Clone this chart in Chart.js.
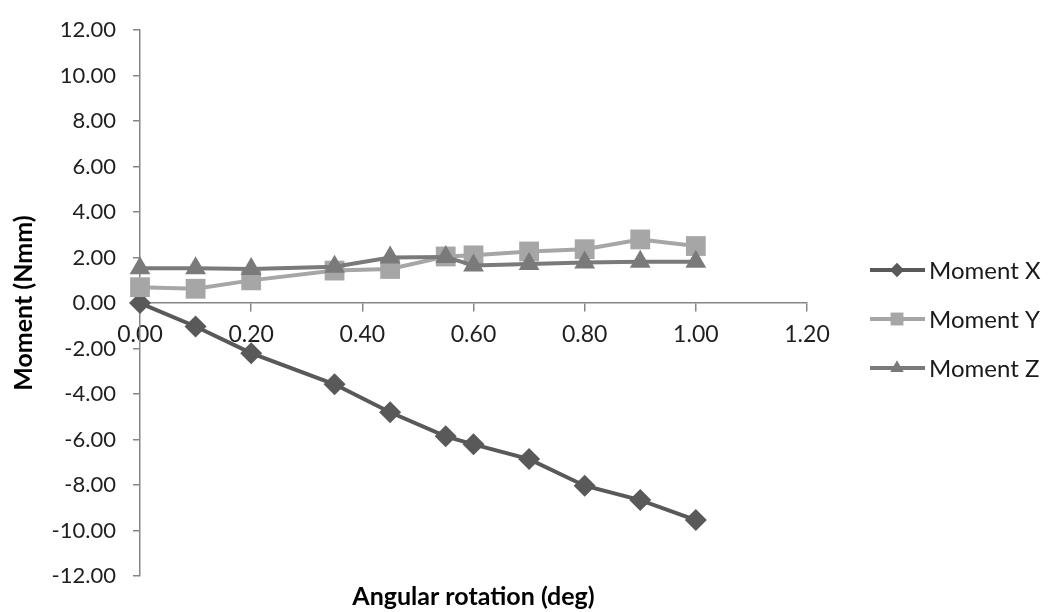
<!DOCTYPE html>
<html>
<head>
<meta charset="utf-8">
<title>Moment vs angular rotation</title>
<script src="https://cdn.jsdelivr.net/npm/chart.js@4"></script>
<style>
  html, body { margin: 0; padding: 0; background: #fff; }
  #wrap { width: 1062px; height: 612px; }
</style>
</head>
<body>
<div id="wrap"><canvas id="momentChart"></canvas></div>
<script>
// values
const angles  = [0, 0.10, 0.20, 0.35, 0.45, 0.55, 0.60, 0.70, 0.80, 0.90, 1.00];
const momentX = [0, -1.03, -2.20, -3.57, -4.80, -5.86, -6.21, -6.86, -8.03, -8.66, -9.54];
const momentY = [0.70, 0.63, 1.00, 1.43, 1.50, 2.05, 2.10, 2.27, 2.37, 2.80, 2.51];
const momentZ = [1.53, 1.53, 1.50, 1.60, 2.00, 2.03, 1.65, 1.72, 1.78, 1.82, 1.82];
const seriesNames = ['Moment X', 'Moment Y', 'Moment Z'];
const xTickValues = [0, 0.2, 0.4, 0.6, 0.8, 1.0, 1.2];
const yTickValues = [-12, -10, -8, -6, -4, -2, 0, 2, 4, 6, 8, 10, 12];

const FONT = 'Lato';
const axisColor = '#868686';

function toPoints(values) {
    return values.map((v, i) => ({ x: angles[i], y: v }));
}

function makeSeries(name, values, color, style, radius, order) {
    return {
        label: name,
        data: toPoints(values),
        xAxisID: 'x',
        yAxisID: 'y',
        borderColor: color,
        backgroundColor: color,
        borderWidth: 4,
        pointStyle: style,
        pointRadius: radius,
        pointHoverRadius: radius,
        pointBorderWidth: 0,
        pointBackgroundColor: color,
        tension: 0,
        clip: false,
        order: order
    };
}

// legend on the right: line + marker, like the spreadsheet one
const sideLegend = {
    id: 'sideLegend',
    afterDraw(chart) {
        const ctx = chart.ctx;
        chart.data.datasets.forEach((ds, i) => {
            const y = 270 + i * 49;
            ctx.save();
            ctx.strokeStyle = ds.borderColor;
            ctx.lineWidth = 4;
            ctx.beginPath();
            ctx.moveTo(870, y);
            ctx.lineTo(925, y);
            ctx.stroke();
            ctx.fillStyle = ds.pointBackgroundColor;
            Chart.helpers.drawPoint(ctx, {
                pointStyle: ds.pointStyle,
                radius: ds.pointRadius * 0.65,
                borderWidth: 0,
                rotation: 0
            }, 897, y);
            ctx.fillStyle = '#1a1a1a';
            ctx.font = '24px ' + FONT;
            ctx.textBaseline = 'middle';
            ctx.fillText(ds.label, 929, y + 1);
            ctx.restore();
        });
    }
};

const ctx = document.getElementById('momentChart').getContext('2d');

new Chart(ctx, {
    type: 'line',
    data: {
        datasets: [
            makeSeries(seriesNames[0], momentX, '#595959', 'rectRot', 11, 2),
            makeSeries(seriesNames[1], momentY, '#a6a6a6', 'rect', 14, 1),
            makeSeries(seriesNames[2], momentZ, '#7a7a7a', 'triangle', 12, 0)
        ]
    },
    options: {
        responsive: true,
        maintainAspectRatio: false,
        animation: false,
        layout: { padding: { left: 0, right: 255, top: 23, bottom: 0 } },
        plugins: {
            legend: { display: false },
            tooltip: { enabled: false }
        },
        scales: {
            x: {
                type: 'linear',
                position: { y: 0 },
                min: 0,
                max: 1.2,
                afterBuildTicks: s => { s.ticks = xTickValues.map(v => ({ value: v })); },
                grid: { drawOnChartArea: false, tickLength: 8, color: axisColor, lineWidth: 1.5 },
                border: { color: axisColor, width: 1.5 },
                ticks: {
                    padding: 10,
                    color: '#1f1f1f',
                    autoSkip: false,
                    maxRotation: 0,
                    font: { family: FONT, size: 23 },
                    callback: v => Number(v).toFixed(2)
                }
            },
            x2: {
                type: 'linear',
                position: 'bottom',
                min: 0,
                max: 1.2,
                grid: { display: false, drawTicks: false },
                border: { display: false },
                ticks: { display: false },
                title: {
                    display: true,
                    text: 'Angular rotation (deg)',
                    color: '#000',
                    font: { family: FONT, size: 25, weight: 'bold' },
                    padding: { top: 6, bottom: 0 }
                }
            },
            y: {
                type: 'linear',
                position: 'left',
                min: -12,
                max: 12,
                afterBuildTicks: s => { s.ticks = yTickValues.map(v => ({ value: v })); },
                afterFit: s => { s.width = 140; },
                grid: { drawOnChartArea: false, tickLength: 7, color: axisColor, lineWidth: 1.5 },
                border: { color: axisColor, width: 1.5 },
                ticks: {
                    padding: 17,
                    color: '#1f1f1f',
                    font: { family: FONT, size: 22 },
                    callback: v => Number(v).toFixed(2)
                },
                title: {
                    display: true,
                    text: 'Moment (Nmm)',
                    color: '#000',
                    font: { family: FONT, size: 25, weight: 'bold' },
                    padding: { top: 9, bottom: 0 }
                }
            }
        }
    },
    plugins: [sideLegend]
});
</script>
</body>
</html>
